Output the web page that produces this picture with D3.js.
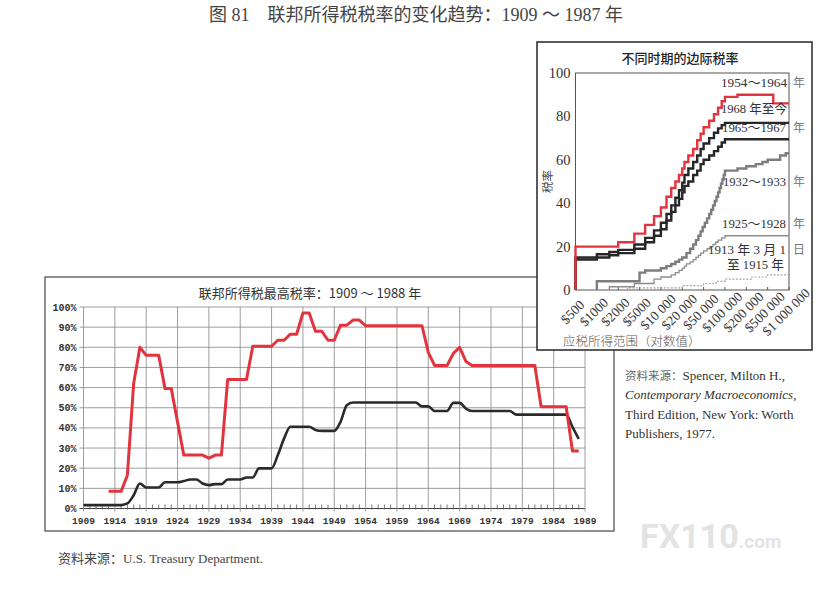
<!DOCTYPE html>
<html>
<head>
<meta charset="utf-8">
<script src="https://cdn.jsdelivr.net/npm/d3@7"></script>
<style>
body { margin: 0; background: #fff; }
svg { display: block; }
</style>
</head>
<body>
<div id="chart"></div>
<script>
// ---- left chart: top federal income tax rate, 1909-1988
var yearTicks = [1909, 1914, 1919, 1924, 1929, 1934, 1939, 1944, 1949, 1954, 1959, 1964, 1969, 1974, 1979, 1984, 1989];
var pctTicks = [0, 10, 20, 30, 40, 50, 60, 70, 80, 90, 100];

// red line (top rate)
var topRate = [
  [1913, 8.5], [1914, 8.5], [1915, 8.5], [1916, 16.5], [1917, 62], [1918, 80], [1919, 76], [1920, 76],
  [1921, 76], [1922, 59.5], [1923, 59.5], [1924, 43], [1925, 26.5], [1926, 26.5], [1927, 26.5], [1928, 26.5],
  [1929, 25], [1930, 26.5], [1931, 26.5], [1932, 64], [1933, 64], [1934, 64], [1935, 64], [1936, 80.5],
  [1937, 80.5], [1938, 80.5], [1939, 80.5], [1940, 83.5], [1941, 83.5], [1942, 86.5], [1943, 86.5], [1944, 97],
  [1945, 97], [1946, 88], [1947, 88], [1948, 83.5], [1949, 83.5], [1950, 91], [1951, 91], [1952, 93.5],
  [1953, 93.5], [1954, 90.7], [1955, 90.7], [1956, 90.7], [1957, 90.7], [1958, 90.7], [1959, 90.7], [1960, 90.7],
  [1961, 90.7], [1962, 90.7], [1963, 90.7], [1964, 77.5], [1965, 71], [1966, 71], [1967, 71], [1968, 77],
  [1969, 80], [1970, 73], [1971, 71], [1972, 71], [1973, 71], [1974, 71], [1975, 71], [1976, 71],
  [1977, 71], [1978, 71], [1979, 71], [1980, 71], [1981, 71], [1982, 50.5], [1983, 50.5], [1984, 50.5],
  [1985, 50.5], [1986, 50.5], [1987, 28.5], [1988, 28.5]
];

// dark line
var lowRate = [
  [1909, 1.7], [1910, 1.7], [1911, 1.7], [1912, 1.7], [1913, 1.7], [1914, 1.7], [1915, 1.7], [1916, 2.5],
  [1917, 6.6], [1918, 12.4], [1919, 10.4], [1920, 10.4], [1921, 10.4], [1922, 13], [1923, 13], [1924, 13],
  [1925, 13.6], [1926, 14.4], [1927, 14.4], [1928, 12.4], [1929, 11.6], [1930, 12.1], [1931, 12.1], [1932, 14.4],
  [1933, 14.4], [1934, 14.4], [1935, 15.4], [1936, 15.4], [1937, 19.9], [1938, 19.9], [1939, 19.9], [1940, 26.5],
  [1941, 34.8], [1942, 40.6], [1943, 40.6], [1944, 40.6], [1945, 40.6], [1946, 39], [1947, 38.5], [1948, 38.5],
  [1949, 38.5], [1950, 43], [1951, 51.2], [1952, 52.6], [1953, 52.6], [1954, 52.6], [1955, 52.6], [1956, 52.6],
  [1957, 52.6], [1958, 52.6], [1959, 52.6], [1960, 52.6], [1961, 52.6], [1962, 52.6], [1963, 50.7], [1964, 50.7],
  [1965, 48.4], [1966, 48.4], [1967, 48.4], [1968, 52.4], [1969, 52.4], [1970, 49.6], [1971, 48.4], [1972, 48.4],
  [1973, 48.4], [1974, 48.4], [1975, 48.4], [1976, 48.4], [1977, 48.4], [1978, 46.6], [1979, 46.6], [1980, 46.6],
  [1981, 46.6], [1982, 46.6], [1983, 46.6], [1984, 46.6], [1985, 46.6], [1986, 46.6], [1987, 40.5], [1988, 34.5]
];

// ---- right chart: marginal rate by taxable income, several periods
var incomeTicks = [500, 1000, 2000, 5000, 10000, 20000, 50000, 100000, 200000, 500000, 1000000];
var incomeLabels = ["$500", "$1000", "$2000", "$5000", "$10 000", "$20 000", "$50 000", "$100 000", "$200 000", "$500 000", "$1 000 000"];
var rateTicks = [0, 20, 40, 60, 80, 100];

// [income where bracket starts, rate]
var rates1954 = [[500, 0], [500, 20], [2000, 22], [4000, 26], [6000, 30], [8000, 34], [10000, 38], [12000, 43],
  [14000, 47], [16000, 50], [18000, 53], [20000, 56], [22000, 59], [26000, 62], [32000, 65], [38000, 69],
  [44000, 72], [50000, 75], [60000, 78], [70000, 81], [80000, 84], [90000, 87], [100000, 89], [150000, 90], [600000, 86]];
var rates1968 = [[500, 0], [500, 15], [1000, 16.5], [1500, 17.5], [2000, 18.5], [4000, 21], [6000, 24], [8000, 27.5],
  [10000, 31], [12000, 35], [14000, 39], [16000, 42.5], [18000, 46], [20000, 49.5], [22000, 53], [26000, 56],
  [32000, 59], [38000, 62], [44000, 65], [50000, 67.5], [60000, 70], [70000, 72.5], [80000, 74.5], [90000, 76], [100000, 77]];
var rates1965 = [[500, 0], [500, 14], [1000, 15], [1500, 16], [2000, 17], [4000, 19], [6000, 22], [8000, 25],
  [10000, 28], [12000, 32], [14000, 36], [16000, 39], [18000, 42], [20000, 45], [22000, 48], [26000, 50],
  [32000, 53], [38000, 55], [44000, 58], [50000, 60], [60000, 62], [70000, 64], [80000, 66], [90000, 68], [100000, 69.5]];
var rates1932 = [[1000, 0], [1000, 4], [5000, 8], [6000, 9], [10000, 10], [12000, 11], [14000, 12], [16000, 13],
  [18000, 14], [20000, 15], [24000, 17], [28000, 19], [32000, 21], [36000, 23], [40000, 25], [44000, 27],
  [48000, 29], [52000, 31], [56000, 33], [60000, 35], [64000, 37], [68000, 39], [72000, 41], [76000, 43],
  [80000, 45], [84000, 47], [88000, 49], [92000, 51], [96000, 53], [100000, 55], [150000, 56], [200000, 57],
  [300000, 58], [400000, 59], [500000, 60], [750000, 62], [900000, 63]];
var rates1925 = [[1500, 0], [1500, 1.5], [4000, 3], [8000, 5], [10000, 6], [14000, 7], [16000, 8], [18000, 9],
  [20000, 10], [22000, 11], [24000, 12], [28000, 13], [32000, 14], [36000, 15], [40000, 16], [44000, 17],
  [50000, 18], [56000, 19], [62000, 20], [68000, 21], [74000, 22], [80000, 23], [90000, 24], [100000, 25]];
var rates1913 = [[3000, 0], [3000, 1], [20000, 2], [50000, 3], [75000, 4], [100000, 5], [250000, 6], [500000, 7]];

var periodNames = ["1954～1964", "1968 年至今", "1965～1967", "1932～1933", "1925～1928", "1913 年 3 月 1", "至 1915 年"];
var labelRates = [93.5, 81.5, 73, 48, 28.5, 16.5, 9.5];


var width = 827, height = 593;
var serif = "'Liberation Serif', 'Noto Sans CJK SC', serif";
var cjk = "'Noto Sans CJK SC', sans-serif";

var svg = d3.select("#chart").append("svg")
    .attr("width", width)
    .attr("height", height);

// figure title
svg.append("text")
    .attr("x", 416).attr("y", 21)
    .attr("text-anchor", "middle")
    .style("font-family", serif)
    .style("font-size", "18px")
    .style("fill", "#444")
    .text("图 81\u3000联邦所得税税率的变化趋势：1909 ～ 1987 年");

// ================= left chart =================
svg.append("rect")
    .attr("x", 45).attr("y", 277).attr("width", 569).attr("height", 254)
    .attr("fill", "#fff").attr("stroke", "#555").attr("stroke-width", 1.3);

svg.append("text")
    .attr("x", 310).attr("y", 297.5)
    .attr("text-anchor", "middle")
    .style("font-family", cjk)
    .style("font-size", "13px")
    .style("fill", "#333")
    .text("联邦所得税最高税率：1909 ～ 1988 年");

var xL = d3.scaleLinear().domain([1909, 1989]).range([83.5, 585]);
var yL = d3.scaleLinear().domain([0, 100]).range([508.5, 307]);

var gL = svg.append("g");

// grid
gL.selectAll("line.hgrid").data(pctTicks).enter().append("line")
    .attr("class", "hgrid")
    .attr("x1", xL(1909) - 4).attr("x2", xL(1989))
    .attr("y1", function(d) { return yL(d); })
    .attr("y2", function(d) { return yL(d); })
    .attr("stroke", function(d) { return d == 0 ? "#444" : "#858585"; })
    .attr("stroke-width", function(d) { return d == 0 ? 1.2 : 0.8; });

gL.selectAll("line.vgrid").data(yearTicks).enter().append("line")
    .attr("class", "vgrid")
    .attr("x1", function(d) { return xL(d); })
    .attr("x2", function(d) { return xL(d); })
    .attr("y1", yL(100)).attr("y2", yL(0) + 3)
    .attr("stroke", "#858585").attr("stroke-width", 0.8);

// minor year ticks along the bottom
var minorYears = d3.range(1909, 1990).filter(function(y) { return (y - 1909) % 5 != 0; });
gL.selectAll("line.minor").data(minorYears).enter().append("line")
    .attr("class", "minor")
    .attr("x1", function(d) { return xL(d); })
    .attr("x2", function(d) { return xL(d); })
    .attr("y1", yL(0) - 4).attr("y2", yL(0) + 1)
    .attr("stroke", "#555").attr("stroke-width", 0.8);

gL.selectAll("text.ylab").data(pctTicks).enter().append("text")
    .attr("class", "ylab")
    .attr("x", xL(1909) - 7)
    .attr("y", function(d) { return yL(d) + 3.5; })
    .attr("text-anchor", "end")
    .style("font-family", "'Liberation Mono', monospace")
    .style("font-size", "10px")
    .style("font-weight", "bold")
    .style("fill", "#333")
    .text(function(d) { return d + "%"; });

gL.selectAll("text.xlab").data(yearTicks).enter().append("text")
    .attr("class", "xlab")
    .attr("x", function(d) { return xL(d); })
    .attr("y", yL(0) + 15)
    .attr("text-anchor", "middle")
    .style("font-family", "'Liberation Mono', monospace")
    .style("font-size", "9.5px")
    .style("font-weight", "bold")
    .style("fill", "#333")
    .text(function(d) { return d; });

var lineTop = d3.line()
    .x(function(d) { return xL(d[0]); })
    .y(function(d) { return yL(d[1]); });
var lineLow = d3.line()
    .x(function(d) { return xL(d[0]); })
    .y(function(d) { return yL(d[1]); })
    .curve(d3.curveMonotoneX);

gL.append("path").datum(lowRate)
    .attr("d", lineLow)
    .attr("fill", "none").attr("stroke", "#2b2b2b").attr("stroke-width", 2.6)
    .attr("stroke-linejoin", "round");
gL.append("path").datum(topRate)
    .attr("d", lineTop)
    .attr("fill", "none").attr("stroke", "#e2343f").attr("stroke-width", 3)
    .attr("stroke-linejoin", "round");

svg.append("text")
    .attr("x", 58).attr("y", 563)
    .style("font-family", serif)
    .style("font-size", "13px")
    .style("fill", "#444")
    .text("资料来源：U.S. Treasury Department.");

// ================= right chart =================
svg.append("rect")
    .attr("x", 537).attr("y", 42).attr("width", 275).attr("height", 308)
    .attr("fill", "#fff").attr("stroke", "#333").attr("stroke-width", 1.6);

svg.append("text")
    .attr("x", 680).attr("y", 62.5)
    .attr("text-anchor", "middle")
    .style("font-family", cjk)
    .style("font-size", "13px")
    .style("font-weight", "500")
    .style("fill", "#222")
    .text("不同时期的边际税率");

// equally spaced log ticks: piecewise log scale
var xR = d3.scaleLog()
    .domain(incomeTicks)
    .range(incomeTicks.map(function(d, i) { return 575.5 + i * 21.35; }));
var yR = d3.scaleLinear().domain([0, 100]).range([290, 73]);

var gR = svg.append("g");

gR.append("rect")
    .attr("x", xR(500)).attr("y", yR(100))
    .attr("width", xR(1000000) - xR(500)).attr("height", yR(0) - yR(100))
    .attr("fill", "none").attr("stroke", "#555").attr("stroke-width", 1);

gR.selectAll("text.ry").data(rateTicks).enter().append("text")
    .attr("class", "ry")
    .attr("x", xR(500) - 5)
    .attr("y", function(d) { return yR(d) + 5; })
    .attr("text-anchor", "end")
    .style("font-family", serif)
    .style("font-size", "14.5px")
    .style("fill", "#333")
    .text(function(d) { return d; });

gR.append("text")
    .attr("transform", "translate(" + (xR(500) - 24) + "," + yR(50) + ") rotate(-90)")
    .attr("text-anchor", "middle")
    .style("font-family", cjk)
    .style("font-size", "11.5px")
    .style("fill", "#444")
    .text("税率");

gR.selectAll("line.rtick").data(incomeTicks).enter().append("line")
    .attr("class", "rtick")
    .attr("x1", function(d) { return xR(d); })
    .attr("x2", function(d) { return xR(d); })
    .attr("y1", yR(0)).attr("y2", yR(0) - 3)
    .attr("stroke", "#555").attr("stroke-width", 1);

gR.selectAll("text.rx").data(incomeTicks).enter().append("text")
    .attr("class", "rx")
    .attr("transform", function(d) { return "translate(" + (xR(d) - 3) + ",312) rotate(-45)"; })
    .attr("text-anchor", "middle")
    .attr("dy", "0.35em")
    .style("font-family", serif)
    .style("font-size", "13.5px")
    .style("fill", "#333")
    .text(function(d, i) { return incomeLabels[i]; });

gR.append("text")
    .attr("x", 563).attr("y", 346)
    .style("font-family", cjk)
    .style("font-size", "12.5px")
    .style("font-weight", "300")
    .style("fill", "#555")
    .text("应税所得范围（对数值）");

var stepLine = d3.line()
    .x(function(d) { return xR(d[0]); })
    .y(function(d) { return yR(d[1]); })
    .curve(d3.curveStepAfter);

function drawSteps(data, color, w, dash) {
    var pts = data.concat([[1000000, data[data.length - 1][1]]]);
    gR.append("path").datum(pts)
        .attr("d", stepLine)
        .attr("fill", "none")
        .attr("stroke", color)
        .attr("stroke-width", w)
        .attr("stroke-dasharray", dash || null);
}

drawSteps(rates1913, "#a8a8a8", 1.2, "2,1.5");
drawSteps(rates1925, "#8c8c8c", 1.3);
drawSteps(rates1932, "#7d7d7d", 2.4);
drawSteps(rates1965, "#262626", 2.4);
drawSteps(rates1968, "#262626", 2.4);
drawSteps(rates1954, "#e2343f", 2.4);

// period labels
var suffixes = ["年", "", "年", "年", "年", "日", ""];
var labelX = [721, 721, 722, 723, 722, 708, 727];
var labelW = [66, 66, 64, 63, 64, 78, 57];
gR.selectAll("text.plab").data(periodNames).enter().append("text")
    .attr("class", "plab")
    .attr("x", function(d, i) { return labelX[i]; })
    .attr("y", function(d, i) { return yR(labelRates[i]); })
    .attr("textLength", function(d, i) { return labelW[i]; })
    .attr("lengthAdjust", "spacingAndGlyphs")
    .style("font-family", serif)
    .style("font-size", "13px")
    .style("fill", "#333")
    .text(function(d) { return d; });

gR.selectAll("text.psuf").data(suffixes).enter().append("text")
    .attr("class", "psuf")
    .attr("x", xR(1000000) + 4)
    .attr("y", function(d, i) { return yR(labelRates[i]); })
    .style("font-family", cjk)
    .style("font-size", "12px")
    .style("fill", "#777")
    .text(function(d) { return d; });

// source of right chart
var srcLines = [
  {t: "资料来源：", s: "Spencer, Milton H.,"},
  {t: "", s: "Contemporary Macroeconomics", tail: ","},
  {t: "", s: "Third Edition, New York: Worth"},
  {t: "", s: "Publishers, 1977."}
];
var src = svg.append("g");
srcLines.forEach(function(l, i) {
    var tx = src.append("text")
        .attr("x", 625).attr("y", 380 + i * 19.4)
        .style("font-family", serif)
        .style("font-size", "13px")
        .style("fill", "#333");
    if (l.t) tx.append("tspan").style("fill", "#666").style("font-family", cjk).style("font-size", "11.5px").text(l.t);
    var sp = tx.append("tspan").text(l.s);
    if (i == 1) sp.style("font-style", "italic");
    if (l.tail) tx.append("tspan").text(l.tail);
});

// watermark
var wm = svg.append("text")
    .attr("x", 640).attr("y", 548)
    .style("font-family", "Roboto, sans-serif")
    .style("font-weight", "bold")
    .style("fill", "#e3e3e3");
wm.append("tspan").style("font-size", "34px").text("FX110");
wm.append("tspan").style("font-size", "19px").text(".com");
</script>
</body>
</html>
